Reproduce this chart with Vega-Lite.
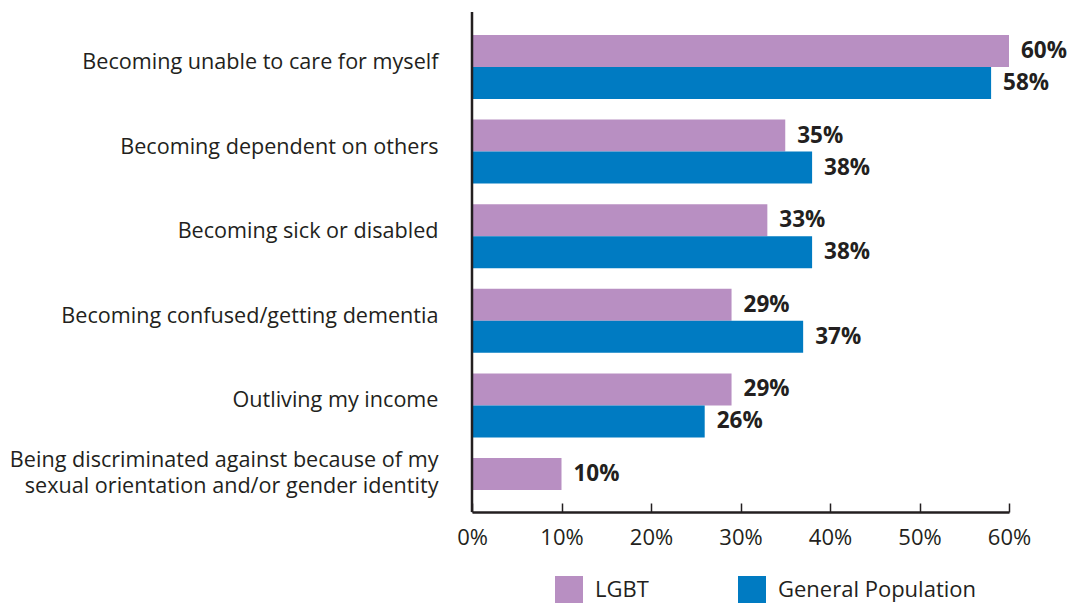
{
  "$schema": "https://vega.github.io/schema/vega-lite/v6.json",
  "width": 537,
  "height": 500,
  "autosize": {"type": "none"},
  "padding": {"left": 472, "top": 12, "right": 63, "bottom": 91},
  "background": "white",
  "config": {"view": {"stroke": null}, "font": "Open Sans"},
  "data": {
    "values": [
      {"concern": "Becoming unable to care for myself", "group": "LGBT", "value": 0.60},
      {"concern": "Becoming unable to care for myself", "group": "General Population", "value": 0.58},
      {"concern": "Becoming dependent on others", "group": "LGBT", "value": 0.35},
      {"concern": "Becoming dependent on others", "group": "General Population", "value": 0.38},
      {"concern": "Becoming sick or disabled", "group": "LGBT", "value": 0.33},
      {"concern": "Becoming sick or disabled", "group": "General Population", "value": 0.38},
      {"concern": "Becoming confused/getting dementia", "group": "LGBT", "value": 0.29},
      {"concern": "Becoming confused/getting dementia", "group": "General Population", "value": 0.37},
      {"concern": "Outliving my income", "group": "LGBT", "value": 0.29},
      {"concern": "Outliving my income", "group": "General Population", "value": 0.26},
      {"concern": "Being discriminated against because of my|sexual orientation and/or gender identity", "group": "LGBT", "value": 0.10}
    ]
  },
  "encoding": {
    "y": {
      "field": "concern",
      "type": "nominal",
      "sort": null,
      "scale": {"range": [23, 510], "paddingInner": 0.2435, "paddingOuter": 0},
      "axis": {
        "title": null,
        "domain": false,
        "ticks": false,
        "labelPadding": 34,
        "labelFontSize": 21.6,
        "labelColor": "#231f20",
        "labelLimit": 0,
        "labelLineHeight": 25.5,
        "labelExpr": "split(datum.value, '|')",
        "labelOffset": {"condition": {"test": "indexof(datum.value, '|') >= 0", "value": -29}, "value": -4}
      }
    },
    "yOffset": {
      "field": "group",
      "type": "nominal",
      "sort": ["LGBT", "General Population"],
      "scale": {"paddingInner": 0, "paddingOuter": 0}
    },
    "x": {
      "field": "value",
      "type": "quantitative",
      "scale": {"domain": [0, 0.6], "nice": false},
      "axis": {
        "title": null,
        "format": ".0%",
        "values": [0, 0.1, 0.2, 0.3, 0.4, 0.5, 0.6],
        "grid": false,
        "domainColor": "#231f20",
        "domainWidth": 2.5,
        "tickColor": "#231f20",
        "tickWidth": 1.5,
        "tickSize": -9,
        "labelPadding": 24,
        "labelFontSize": 22,
        "labelColor": "#231f20",
        "labelFlush": false
      }
    }
  },
  "layer": [
    {
      "mark": {"type": "bar"},
      "encoding": {
        "color": {
          "field": "group",
          "type": "nominal",
          "scale": {"domain": ["LGBT", "General Population"], "range": ["#B88FC2", "#007BC2"]},
          "legend": {
            "title": null,
            "orient": "none",
            "legendX": 83,
            "legendY": 564,
            "direction": "horizontal",
            "symbolType": "square",
            "symbolSize": 784,
            "symbolStrokeWidth": 0,
            "symbolOpacity": 1,
            "labelFontSize": 22,
            "labelColor": "#231f20",
            "labelOffset": 12,
            "labelLimit": 400,
            "columnPadding": 89,
            "padding": 0
          }
        }
      }
    },
    {
      "mark": {"type": "text", "align": "left", "baseline": "middle", "dx": 12, "fontSize": 22.5, "fontWeight": "bold", "color": "#231f20"},
      "encoding": {
        "text": {"field": "value", "type": "quantitative", "format": ".0%"}
      }
    },
    {
      "data": {"values": [{"origin": 0}]},
      "mark": {"type": "rule", "color": "#231f20", "strokeWidth": 2.5},
      "encoding": {
        "x": {"field": "origin", "type": "quantitative"},
        "y": null,
        "yOffset": null
      }
    }
  ]
}
